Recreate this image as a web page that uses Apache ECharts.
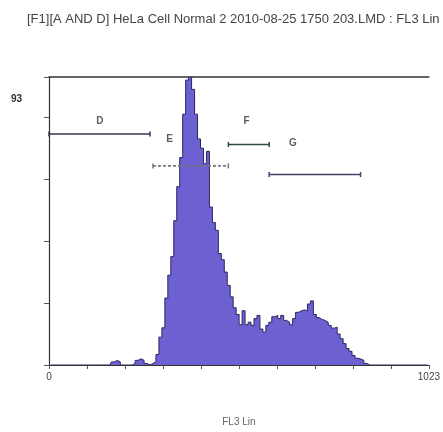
<!DOCTYPE html>
<html><head><meta charset="utf-8">
<script src="https://cdn.jsdelivr.net/npm/echarts@6/dist/echarts.min.js"></script>
<style>html,body{margin:0;padding:0;background:#fff}#c{width:443px;height:432px}</style>
</head><body><div id="c"></div>
<script>
const titleText = '[F1][A AND D] HeLa Cell Normal 2 2010-08-25 1750 203.LMD : FL3 Lin';
const xAxisName = 'FL3 Lin';
const yMaxLabel = '93';
const xMin = 0, xMax = 1023, yMax = 93;
const binWidth = 8;
const counts = [
  0,0,0,0,0,0,0,0,0,0,0,0,0,0,0,0,0,0,0,0,0,
  1,1.5,1,0,0,0,0,0.5,1.5,2,1.5,0.5,0,0.5,1,3.4,9,12,21.6,29,35,46.6,57.6,67,81,92,93,89,81,73,70,65,69,51,46,43.5,36,34,30,25.7,22,18.5,16.3,13,17.5,13,13.8,12.8,15,16,11.6,10.6,12.8,13.8,15.6,16,15,16,14.4,13.8,13,15,17,17.5,17.8,17.5,19.7,20.7,16.3,15.3,14.7,14.4,13.8,12.8,11.9,12.2,10,8.5,6.9,5.3,4.4,3.1,2.2,1.9,1.5,0.5,
  0,0,0,0,0,0,0,0,0,0,0,0,0,0,0,0,0,0,0,0,0
];
const gateNames = ['D','E','F','G'];
const gateStart = [0,280,483,593];
const gateEnd = [272,483,593,839];
const gateLevel = [74.6,64.3,71.2,61.5];
const gateLabelX = [137,325,532,657];
const gateLabelY = [78.6,73,78.6,71.5];

const gateColors = ['#3a3550','#777','#2f4a48','#4a3f66'];
const gateTypes = ['solid',[3,2],'solid','solid'];

const chart = echarts.init(document.getElementById('c'), null, {renderer:'canvas'});
const histData = counts.map((v,i)=>[i*binWidth + binWidth/2, v]);
const gateSeries = gateNames.map((n,i)=>({
  type:'line', name:'gate'+n, z:5,
  data:[[gateStart[i],gateLevel[i]],[gateEnd[i],gateLevel[i]]],
  symbol:'rect', symbolSize:[1.5,5], showSymbol:true,
  itemStyle:{color:gateColors[i]},
  lineStyle:{color:gateColors[i], width:1.6, type:gateTypes[i]},
  silent:true, animation:false
}));
const option = {
  animation:false,
  backgroundColor:'#fff',
  title:{text:titleText,left:22,top:8,textStyle:{fontFamily:'Liberation Sans',fontSize:13,fontWeight:'normal',color:'#444'}},
  graphic:[{type:'text',left:11,top:94,style:{text:yMaxLabel,font:'bold 10px Liberation Sans',fill:'#333'}}],
  grid:{left:49,right:5,top:77,bottom:58},
  xAxis:[{
    type:'value',min:xMin,max:xMax,interval:102.3,
    name:xAxisName,nameLocation:'middle',nameGap:52,
    nameTextStyle:{fontFamily:'Liberation Sans',fontSize:10,color:'#666'},
    axisLine:{lineStyle:{color:'#333',width:1.2}},
    axisTick:{show:true,length:4,lineStyle:{color:'#555'}},
    axisLabel:{fontFamily:'Liberation Sans',fontSize:10,color:'#444',margin:7,
      formatter:v=> v===0?'0':(v>1000?'1023':'')},
    splitLine:{show:false}
  },{
    type:'value',position:'top',min:xMin,max:xMax,
    axisLine:{show:true,onZero:false,lineStyle:{color:'#333',width:1.5}},
    axisTick:{show:false},axisLabel:{show:false},splitLine:{show:false}
  }],
  yAxis:{
    type:'value',min:0,max:yMax,interval:20,
    axisLine:{show:true,lineStyle:{color:'#333',width:1.2}},
    axisTick:{show:true,length:5,lineStyle:{color:'#555'}},
    axisLabel:{show:false},splitLine:{show:false}
  },
  series:[{
    type:'line', step:'middle', symbol:'none', z:2,
    data:histData,
    lineStyle:{color:'#2a2660',width:1},
    areaStyle:{color:'#6d61d2',opacity:1},
    silent:true
  }].concat(gateSeries).concat([{
    type:'scatter', z:6, symbolSize:0,
    data:gateNames.map((n,i)=>({value:[gateLabelX[i],gateLabelY[i]],name:n})),
    label:{show:true,position:'inside',formatter:p=>p.name,fontFamily:'Liberation Sans',fontSize:10,fontWeight:'bold',color:'#333'},
    silent:true
  }])
};
chart.setOption(option);
</script></body></html>
